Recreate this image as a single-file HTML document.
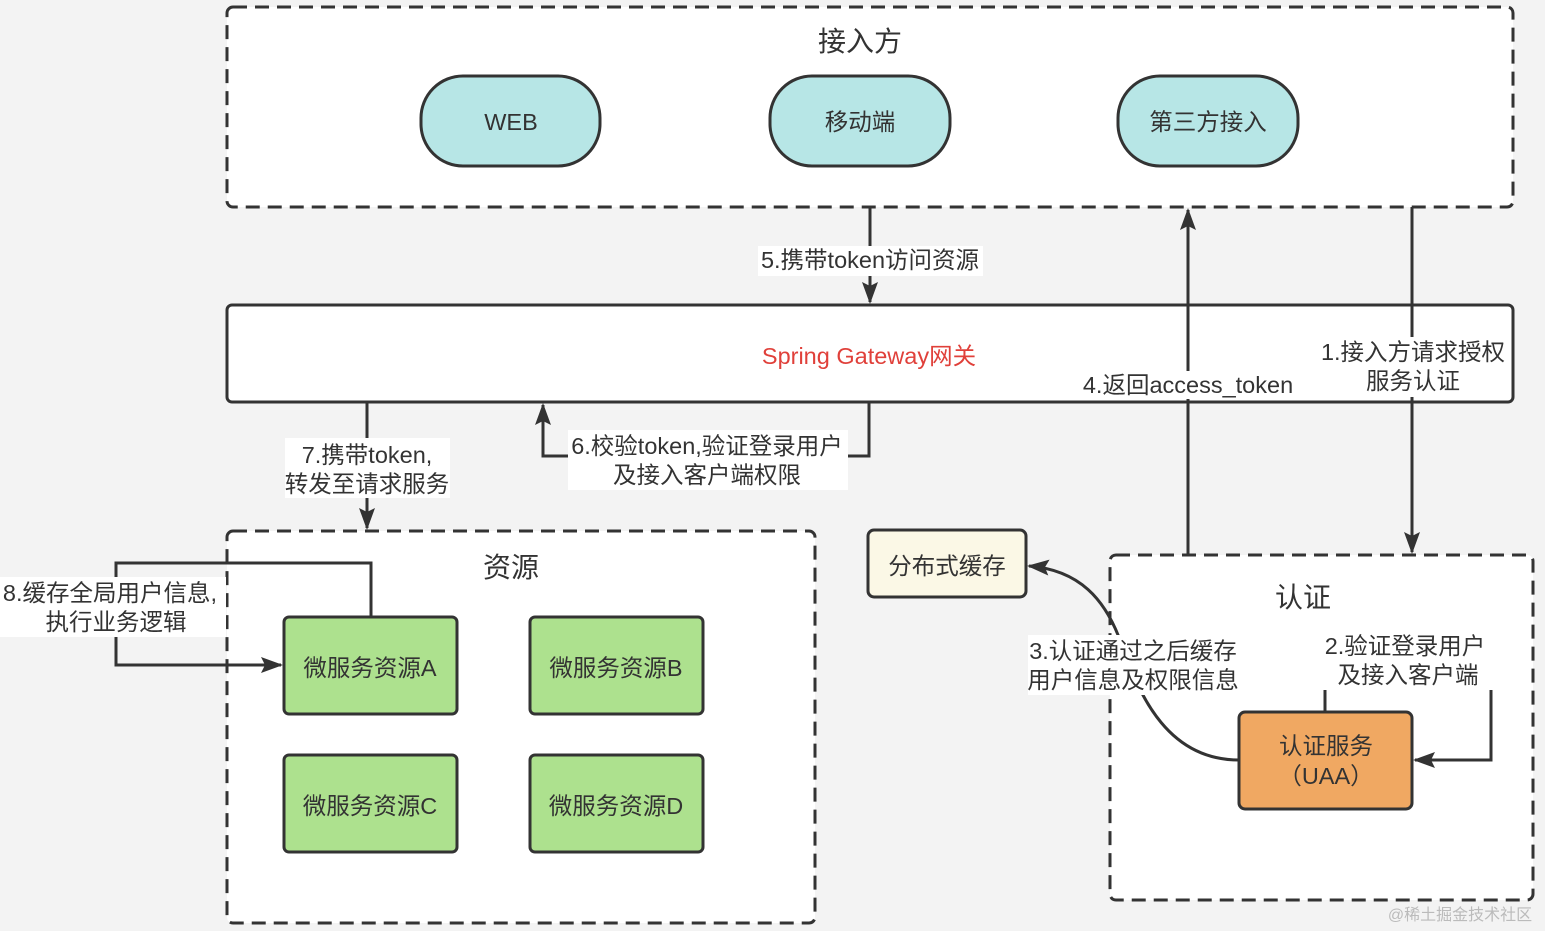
<!DOCTYPE html>
<html><head><meta charset="utf-8"><style>
body{margin:0;background:#f3f3f3;}
svg{display:block;font-family:"Liberation Sans","Noto Sans CJK SC",sans-serif;}
</style></head><body>
<svg width="1545" height="931" viewBox="0 0 1545 931">
<defs>
<marker id="b" markerWidth="22" markerHeight="16" refX="20" refY="8" orient="auto" markerUnits="userSpaceOnUse"><path d="M0,0L22,8L0,16L4,8Z" fill="#333"/></marker></defs>
<g fill="#fff" stroke="#333" stroke-width="3" stroke-dasharray="14 8">
<rect x="227" y="7" width="1286" height="200" rx="6"/>
<rect x="227" y="531" width="588" height="392" rx="6"/>
<rect x="1110" y="555" width="423" height="345" rx="6"/>
</g>
<rect x="227" y="305" width="1286" height="97" rx="5" fill="#fff" stroke="#333" stroke-width="3"/>
<g stroke="#333" stroke-width="3">
<rect x="421" y="76" width="179" height="90" rx="42" fill="#b7e6e6"/>
<rect x="770" y="76" width="180" height="90" rx="42" fill="#b7e6e6"/>
<rect x="1118" y="76" width="180" height="90" rx="42" fill="#b7e6e6"/>
<rect x="868" y="530" width="158" height="67" rx="6" fill="#fbf8e6"/>
<rect x="284" y="617" width="173" height="97" rx="5" fill="#ade18e"/>
<rect x="530" y="617" width="173" height="97" rx="5" fill="#ade18e"/>
<rect x="284" y="755" width="173" height="97" rx="5" fill="#ade18e"/>
<rect x="530" y="755" width="173" height="97" rx="5" fill="#ade18e"/>
<rect x="1239" y="712" width="173" height="97" rx="6" fill="#f0a862"/>
</g>
<g fill="none" stroke="#333" stroke-width="3">
<path d="M870 207V302" marker-end="url(#b)"/>
<path d="M1188 555V210" marker-end="url(#b)"/>
<path d="M1412 207V552" marker-end="url(#b)"/>
<path d="M367 402V528" marker-end="url(#b)"/>
<path d="M869 402V456H543V405" marker-end="url(#b)"/>
<path d="M371 617V563H116V665H281" marker-end="url(#b)"/>
<path d="M1239 760C1170 760 1140 700 1120 640C1105 600 1080 570 1029 566" marker-end="url(#b)"/>
<path d="M1325 712V690M1491 690V760H1415" marker-end="url(#b)"/>
</g>
<g fill="#fff">
<rect x="758" y="246" width="225" height="30"/>
<rect x="285" y="438" width="165" height="60"/>
<rect x="568" y="430" width="280" height="60"/>
<rect x="0" y="577" width="226" height="60"/>
<rect x="1028" y="635" width="210" height="60"/>
<rect x="1328" y="631" width="160" height="58"/>
<rect x="1322" y="337" width="184" height="60"/>
<rect x="1082" y="371" width="212" height="28"/>
</g>
<g font-size="23.5" fill="#333" text-anchor="middle">
<text x="860" y="51" font-size="28">接入方</text>
<text x="511" y="130">WEB</text>
<text x="860" y="130">移动端</text>
<text x="1208" y="130">第三方接入</text>
<text x="869" y="364" fill="#e0403a">Spring Gateway网关</text>
<text x="870" y="268">5.携带token访问资源</text>
<text x="1188" y="393">4.返回access_token</text>
<text x="1413" y="360">1.接入方请求授权</text>
<text x="1413" y="389">服务认证</text>
<text x="367" y="463">7.携带token,</text>
<text x="367" y="492">转发至请求服务</text>
<text x="707" y="454">6.校验token,验证登录用户</text>
<text x="707" y="483">及接入客户端权限</text>
<text x="110" y="601">8.缓存全局用户信息,</text>
<text x="116" y="630">执行业务逻辑</text>
<text x="511" y="577" font-size="28">资源</text>
<text x="1303" y="607" font-size="28">认证</text>
<text x="947" y="574">分布式缓存</text>
<text x="370" y="676">微服务资源A</text>
<text x="616" y="676">微服务资源B</text>
<text x="370" y="814">微服务资源C</text>
<text x="616" y="814">微服务资源D</text>
<text x="1326" y="754">认证服务</text>
<text x="1326" y="784">（UAA）</text>
<text x="1133" y="659">3.认证通过之后缓存</text>
<text x="1133" y="688">用户信息及权限信息</text>
<text x="1405" y="654">2.验证登录用户</text>
<text x="1408" y="683">及接入客户端</text>
<text x="1460" y="920" font-size="16" fill="#bbb">@稀土掘金技术社区</text>
</g>
</svg>
</body></html>
